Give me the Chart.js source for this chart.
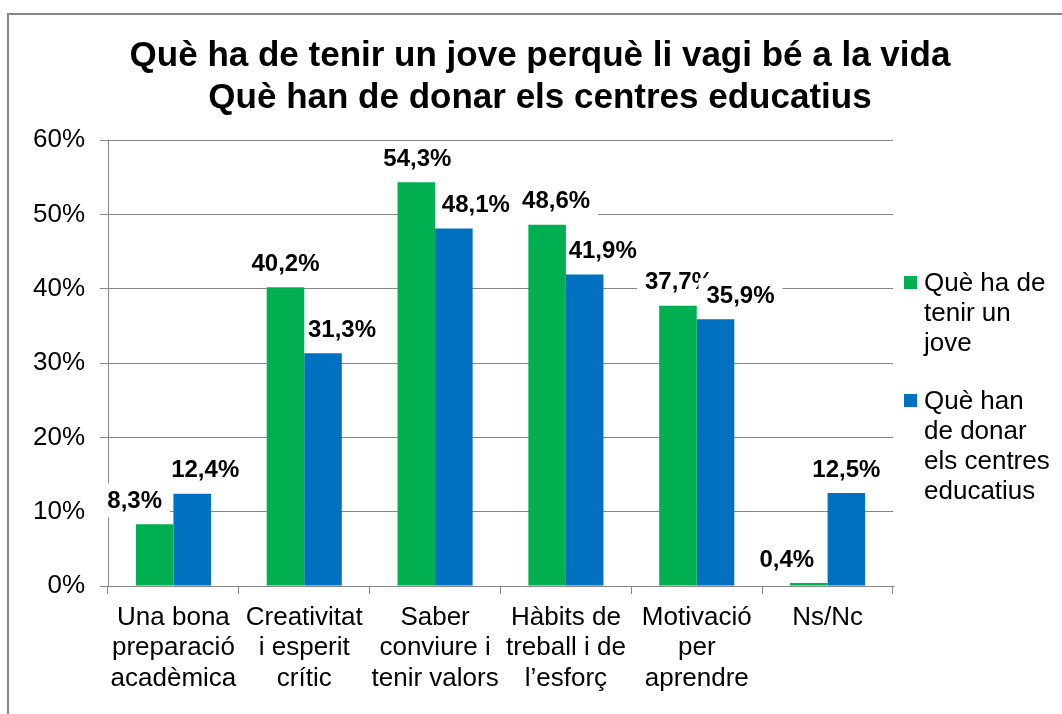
<!DOCTYPE html>
<html>
<head>
<meta charset="utf-8">
<script src="https://cdn.jsdelivr.net/npm/chart.js@4.4.0/dist/chart.umd.min.js"></script>
<style>
  html, body { margin: 0; padding: 0; background: #fff; overflow: hidden; }
  #wrap { position: relative; width: 1062px; height: 714px; }
</style>
</head>
<body>
<div id="wrap"><canvas id="myChart" width="1062" height="714"></canvas></div>
<script>
// chart data
const titleLines = ["Què ha de tenir un jove perquè li vagi bé a la vida", "Què han de donar els centres educatius"];
const categories = [
  ["Una bona", "preparació", "acadèmica"],
  ["Creativitat", "i esperit", "crític"],
  ["Saber", "conviure i", "tenir valors"],
  ["Hàbits de", "treball i de", "l’esforç"],
  ["Motivació", "per", "aprendre"],
  ["Ns/Nc"]
];
const seriesNames = ["Què ha de tenir un jove", "Què han de donar els centres educatius"];
const legendLines = [["Què ha de", "tenir un", "jove"], ["Què han", "de donar", "els centres", "educatius"]];
const joveValues = [8.3, 40.2, 54.3, 48.6, 37.7, 0.4];
const centresValues = [12.4, 31.3, 48.1, 41.9, 35.9, 12.5];
const yMin = 0, yMax = 60, yStep = 10;

// styling
const green = "#00B050";
const blue = "#0070C0";
const gray = "#868686";
const fontFam = "'Liberation Sans', Arial, Helvetica, sans-serif";
// little sideways nudges of the value labels (like excel moved them)
const labelShift = [[-20, 0, 1, 9, 1, -22], [13, 19, 22, 18, 25, 0]];

const fmt = v => v.toFixed(1).replace(".", ",") + "%";

// outer frame
const framePlugin = {
  id: "frame",
  beforeDraw(chart) {
    const ctx = chart.ctx;
    ctx.save();
    ctx.strokeStyle = gray;
    ctx.lineWidth = 2;
    ctx.strokeRect(8, 14, 1100, 800);
    ctx.restore();
  }
};

// value labels with white box, drawn under the bars but over the grid
const valueLabels = {
  id: "valueLabels",
  beforeDatasetsDraw(chart) {
    const ctx = chart.ctx;
    ctx.save();
    ctx.font = "bold 24px " + fontFam;
    ctx.textAlign = "center";
    ctx.textBaseline = "middle";
    chart.data.datasets.forEach((ds, i) => {
      const meta = chart.getDatasetMeta(i);
      meta.data.forEach((bar, j) => {
        const txt = fmt(ds.data[j]);
        const x = bar.x + labelShift[i][j];
        const y = bar.y - 24;
        const w = ctx.measureText(txt).width;
        ctx.fillStyle = "#fff";
        ctx.fillRect(x - w / 2 - 8, y - 17, w + 16, 34);
        ctx.fillStyle = "#000";
        ctx.fillText(txt, x, y + 1);
      });
    });
    ctx.restore();
  }
};

// two line title
const titlePlugin = {
  id: "bigTitle",
  afterDraw(chart) {
    const ctx = chart.ctx;
    ctx.save();
    ctx.font = "bold 35px " + fontFam;
    ctx.fillStyle = "#000";
    ctx.textAlign = "center";
    ctx.textBaseline = "middle";
    titleLines.forEach((t, i) => ctx.fillText(t, 540, 56 + i * 42));
    ctx.restore();
  }
};

// legend on the right with wrapped text
const sideLegend = {
  id: "sideLegend",
  afterDraw(chart) {
    const ctx = chart.ctx;
    ctx.save();
    ctx.font = "26px " + fontFam;
    ctx.textAlign = "left";
    ctx.textBaseline = "middle";
    let y = 283;
    chart.data.datasets.forEach((ds, i) => {
      ctx.fillStyle = ds.backgroundColor;
      ctx.fillRect(904, y - 7, 13, 13);
      ctx.fillStyle = "#000";
      legendLines[i].forEach(line => {
        ctx.fillText(line, 924, y + 1);
        y += 30;
      });
      y += 28;
    });
    ctx.restore();
  }
};

const ctx = document.getElementById("myChart").getContext("2d");
new Chart(ctx, {
  type: "bar",
  data: {
    labels: categories,
    datasets: [
      { label: seriesNames[0], data: joveValues, backgroundColor: green, borderWidth: 0 },
      { label: seriesNames[1], data: centresValues, backgroundColor: blue, borderWidth: 0 }
    ]
  },
  options: {
    responsive: false,
    animation: false,
    layout: { padding: { left: 0, right: 169, top: 140, bottom: 0 } },
    datasets: { bar: { categoryPercentage: 0.574, barPercentage: 1 } },
    plugins: {
      legend: { display: false },
      title: { display: false },
      tooltip: { enabled: false }
    },
    scales: {
      x: {
        grid: { drawOnChartArea: false, drawTicks: true, tickLength: 8, color: gray, offset: true },
        border: { display: true, color: gray, width: 1 },
        ticks: {
          color: "#000",
          font: { family: fontFam, size: 26, lineHeight: 1.16 },
          padding: 9,
          maxRotation: 0,
          autoSkip: false
        },
        afterFit: s => { s.height = 128; }
      },
      y: {
        min: yMin,
        max: yMax,
        grid: { color: gray, tickLength: 8 },
        border: { display: true, color: gray, width: 1 },
        ticks: {
          stepSize: yStep,
          color: "#000",
          font: { family: fontFam, size: 26 },
          padding: 15,
          callback: v => v + "%"
        },
        afterFit: s => { s.width = 108; }
      }
    }
  },
  plugins: [framePlugin, valueLabels, titlePlugin, sideLegend]
});
</script>
</body>
</html>
